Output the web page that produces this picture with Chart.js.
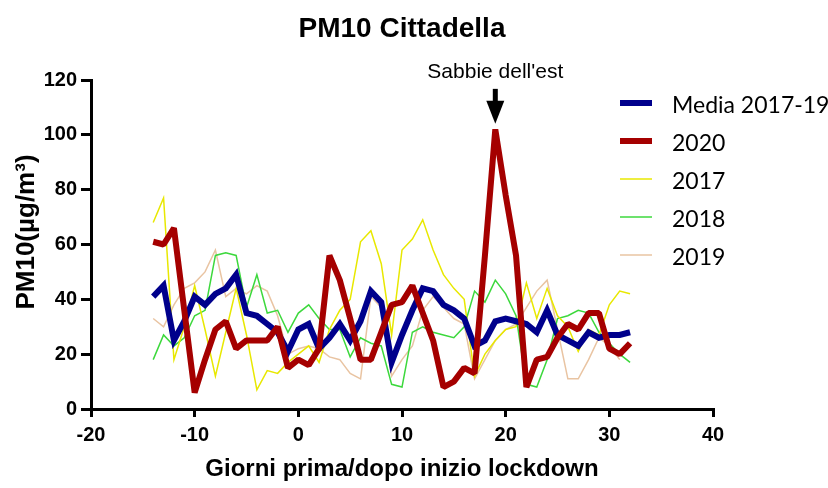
<!DOCTYPE html>
<html>
<head>
<meta charset="utf-8">
<script src="https://cdn.jsdelivr.net/npm/chart.js@4.4.0/dist/chart.umd.min.js"></script>
<style>
  html, body { margin: 0; padding: 0; background: #fff; }
</style>
</head>
<body>
<canvas id="pm10" width="828" height="488"></canvas>
<script>
// giorni rispetto all'inizio del lockdown
const days = [-14, -13, -12, -11, -10, -9, -8, -7, -6, -5, -4, -3, -2, -1, 0, 1, 2, 3, 4, 5,
  6, 7, 8, 9, 10, 11, 12, 13, 14, 15, 16, 17, 18, 19, 20, 21, 22, 23, 24, 25, 26, 27, 28, 29, 30, 31, 32];

const media = [41, 45, 25, 32, 41, 38, 42, 44, 49, 35, 34, 31, 28, 21, 29, 31, 22, 26, 31, 25,
  32, 43, 39, 17, 27, 36, 44, 43, 38, 36, 33, 23, 25, 32, 33, 32, 31, 28, 36, 27, 25, 23, 28, 26, 27, 27, 28];
const y2020 = [61, 60, 66, 36, 6, 18, 29, 32, 22, 25, 25, 25, 30, 15, 18, 16, 22, 56, 47, 33,
  18, 18, 28, 38, 39, 45, 35, 25, 8, 10, 15, 13, 56, 102, 78, 56, 8, 18, 19, 26, 31, 29, 35, 35, 22, 20, 24];
const y2017 = [68, 77, 18, 30, 45, 29, 12, 28, 44, 27, 7, 14, 13, 17, 20, 23, 17, 29, 36, 40,
  61, 65, 53, 27, 58, 62, 69, 58, 49, 44, 40, 12, 20, 25, 29, 30, 46, 33, 44, 34, 30, 21, 29, 27, 38, 43, 42];
const y2018 = [18, 27, 23, 26, 34, 36, 56, 57, 56, 37, 49, 35, 36, 28, 35, 38, 33, 29, 29, 19,
  26, 24, 23, 9, 8, 28, 30, 28, 27, 26, 30, 43, 39, 47, 42, 34, 9, 8, 18, 33, 34, 36, 35, 28, 24, 20, 17];
const y2019 = [33, 30, 38, 44, 46, 50, 58, 41, 44, 42, 45, 43, 34, 20, 22, 23, 22, 19, 18, 13,
  11, 41, 37, 12, 18, 23, 36, 41, 37, 33, 31, 11, 18, 25, 29, 31, 37, 43, 47, 29, 11, 11, 18, 26, 23, 18, null];

const seriesNames = ["Media 2017-19", "2020", "2017", "2018", "2019"];
const xTicks = [-20, -10, 0, 10, 20, 30, 40];
const yTicks = [0, 20, 40, 60, 80, 100, 120];

const peakDay = 19;
const peakLabel = "Sabbie dell'est";

const ARIAL = '"Liberation Sans", Arial, sans-serif';

function toPoints(vals) {
  return days.map((d, i) => ({ x: d, y: vals[i] }));
}

// titolo, titolo asse y, legenda e freccia disegnati a mano
const overlay = {
  id: "overlay",
  afterDraw(chart) {
    const ctx = chart.ctx;
    const xs = chart.scales.x;
    const ys = chart.scales.y;
    const area = chart.chartArea;
    ctx.save();
    ctx.fillStyle = "#000";

    ctx.font = "bold 28px " + ARIAL;
    ctx.textAlign = "center";
    ctx.textBaseline = "alphabetic";
    ctx.fillText("PM10 Cittadella", (area.left + area.right) / 2, 37);

    ctx.save();
    ctx.translate(34, 232);
    ctx.rotate(-Math.PI / 2);
    ctx.font = "bold 26px " + ARIAL;
    ctx.fillText("PM10(\u00b5g/m\u00b3)", 0, 0);
    ctx.restore();

    // annotazione sul picco
    const ax = xs.getPixelForValue(peakDay);
    const tip = ys.getPixelForValue(104);
    ctx.font = "21px " + ARIAL;
    ctx.fillText(peakLabel, ax, 78);
    ctx.fillRect(ax - 2.5, tip - 35, 5, 14);
    ctx.beginPath();
    ctx.moveTo(ax - 9, tip - 23);
    ctx.lineTo(ax + 9, tip - 23);
    ctx.lineTo(ax, tip);
    ctx.closePath();
    ctx.fill();

    // legenda
    const ds = chart.data.datasets;
    ctx.textAlign = "left";
    ctx.font = "23px Lato, sans-serif";
    for (let i = 0; i < ds.length; i++) {
      const yy = 103 + i * 38;
      ctx.strokeStyle = ds[i].borderColor;
      ctx.lineWidth = ds[i].borderWidth;
      ctx.beginPath();
      ctx.moveTo(620, yy);
      ctx.lineTo(652, yy);
      ctx.stroke();
      ctx.fillStyle = "#000";
      ctx.fillText(ds[i].label, 672, yy + 10);
    }
    ctx.restore();
  }
};

const tickFont = { family: ARIAL, size: 20, weight: "bold" };

new Chart(document.getElementById("pm10"), {
  type: "line",
  data: {
    datasets: [
      { label: seriesNames[0], data: toPoints(media), borderColor: "#00008c", borderWidth: 6, order: 1 },
      { label: seriesNames[1], data: toPoints(y2020), borderColor: "#a50000", borderWidth: 6, order: 0, borderJoinStyle: "bevel" },
      { label: seriesNames[2], data: toPoints(y2017), borderColor: "#e8e800", borderWidth: 1.5, order: 2 },
      { label: seriesNames[3], data: toPoints(y2018), borderColor: "#3cd83c", borderWidth: 1.5, order: 3 },
      { label: seriesNames[4], data: toPoints(y2019), borderColor: "#e9c4a2", borderWidth: 1.5, order: 4 }
    ]
  },
  options: {
    responsive: false,
    animation: false,
    devicePixelRatio: 1,
    layout: { padding: { left: 0, right: 115, top: 80, bottom: 0 } },
    elements: { point: { radius: 0 }, line: { tension: 0 } },
    plugins: { legend: { display: false }, title: { display: false }, tooltip: { enabled: false } },
    scales: {
      x: {
        type: "linear",
        min: -20,
        max: 40,
        afterBuildTicks: (s) => { s.ticks = xTicks.map((v) => ({ value: v })); },
        afterFit: (s) => { s.height = 79; },
        border: { color: "#000", width: 3 },
        grid: { drawOnChartArea: false, drawTicks: true, tickLength: 8, color: "#000", lineWidth: 3 },
        ticks: { color: "#000", font: tickFont, padding: 6, maxRotation: 0, autoSkip: false },
        title: {
          display: true,
          text: "Giorni prima/dopo inizio lockdown",
          color: "#000",
          font: { family: ARIAL, size: 24, weight: "bold" },
          padding: { top: 0, bottom: 4 }
        }
      },
      y: {
        min: 0,
        max: 120,
        afterBuildTicks: (s) => { s.ticks = yTicks.map((v) => ({ value: v })); },
        afterFit: (s) => { s.width = 91; },
        border: { color: "#000", width: 3 },
        grid: { drawOnChartArea: false, drawTicks: true, tickLength: 10, color: "#000", lineWidth: 3 },
        ticks: { color: "#000", font: tickFont, padding: 4 }
      }
    }
  },
  plugins: [overlay]
});
</script>
</body>
</html>
